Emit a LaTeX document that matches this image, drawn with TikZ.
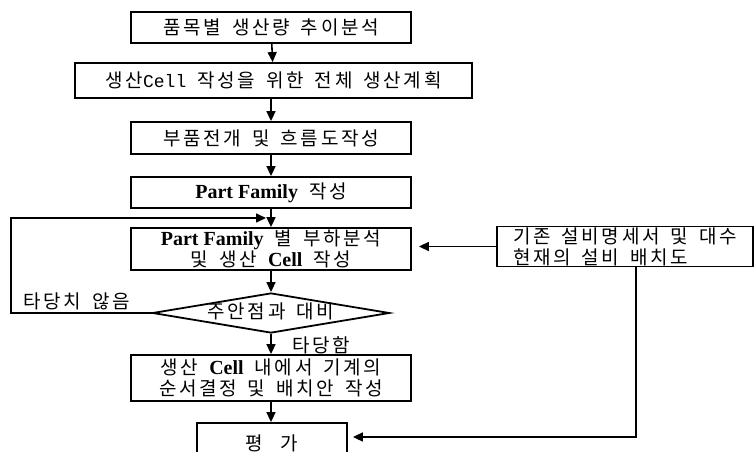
\documentclass[tikz,border=0pt]{standalone}
\usepackage{fontspec}
\setmainfont{Liberation Serif}
\newfontfamily\kr[LetterSpace=14,WordSpace=1.6]{Noto Sans CJK KR}
\newfontfamily\monofam{Liberation Mono}
\usetikzlibrary{arrows.meta,shapes.geometric}
\tikzset{
  box/.style={draw, line width=1.8pt, minimum width=280pt, inner sep=0pt, align=center,
    font=\fontsize{19}{21}\selectfont\kr},
  arr/.style={line width=1.6pt, -{Triangle[length=10pt,width=9pt]}},
  lbl/.style={inner sep=0pt, font=\fontsize{19}{21}\selectfont\kr},
}
\newcommand\lat[1]{{\rmfamily\bfseries\fontsize{20}{21}\selectfont #1}}
\newcommand\mcell[1]{{\monofam\fontsize{18}{18}\selectfont #1}}
\begin{document}
\begin{tikzpicture}[x=1pt,y=-1pt]
\useasboundingbox (0,0) rectangle (755,452);
\node[box, minimum height=31pt] (b1) at (271,27.5) {품목별 생산량 추이분석};
\node[box, minimum width=397pt, minimum height=35pt] (b2) at (273.5,80.5)
  {생산\mcell{Cell} 작성을 위한 전체 생산계획};
\node[box, minimum height=32pt] (b3) at (271,138) {부품전개 및 흐름도작성};
\node[box, minimum height=31pt] (b4) at (271,192.5) {\lat{Part Family} 작성};
\node[box, minimum height=42pt] (b5) at (271,249)
  {\lat{Part Family} 별 부하분석\\및 생산 \lat{Cell} 작성};
\node[box, minimum width=256pt, minimum height=40pt, align=left] (rb) at (625,246.5)
  {기존 설비명세서 및 대수\\현재의 설비 배치도};
\node[draw, diamond, line width=1.8pt, minimum width=237pt, minimum height=40pt, inner sep=0pt,
  label={[lbl, yshift=2pt]center:주안점과 대비}] (d) at (271,313) {};
\node[box, minimum height=46pt] (b6) at (271,378)
  {생산 \lat{Cell} 내에서 기계의\\순서결정 및 배치안 작성};
\node[box, minimum width=150pt, minimum height=40pt] (b7) at (272,443) {평\hspace{0.9em}가};
\node[lbl, anchor=west] (no) at (23,301) {타당치 않음};
\node[lbl, anchor=west] (yes) at (292,345) {타당함};
\coordinate (l1) at (11,313);
\coordinate (l2) at (11,218);
\coordinate (l3) at (266,218);
\coordinate (r1) at (636,437);
\draw[arr] (b1) -- (b2);
\draw[arr] (b2.south -| b1) -- (b3);
\draw[arr] (b3) -- (b4);
\draw[arr] (b4) -- (b5);
\draw[arr] (b5) -- (d);
\draw[arr] (d) -- (b6);
\draw[arr] (b6.south) -- (b6.south |- b7.north);
\draw[arr] (d.west) -- (l1) -- (l2) -- (l3);
\draw[arr, shorten >=7pt] (rb.west) -- (rb.west -| b5.east);
\draw[arr, shorten >=5pt] (rb.south -| r1) -- (r1) -- (r1 -| b7.east);
\end{tikzpicture}
\end{document}
